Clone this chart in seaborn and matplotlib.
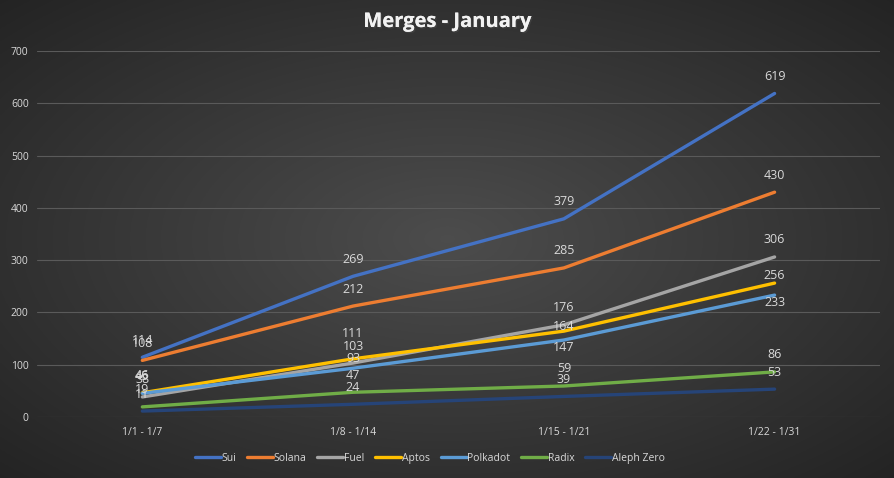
import numpy as np
import pandas as pd
import matplotlib
matplotlib.use("Agg")
import matplotlib.pyplot as plt
import matplotlib.patheffects as pe
import seaborn as sns

# dados
weeks = ["1/1 - 1/7", "1/8 - 1/14", "1/15 - 1/21", "1/22 - 1/31"]
sui = [114, 269, 379, 619]
solana = [108, 212, 285, 430]
fuel = [38, 103, 176, 306]
aptos = [46, 111, 164, 256]
polkadot = [45, 93, 147, 233]
radix = [19, 47, 59, 86]
aleph_zero = [11, 24, 39, 53]

series = {"Sui": sui, "Solana": solana, "Fuel": fuel, "Aptos": aptos,
          "Polkadot": polkadot, "Radix": radix, "Aleph Zero": aleph_zero}
cores = ["#4472C4", "#ED7D31", "#A5A5A5", "#FFC000", "#5B9BD5", "#70AD47", "#264478"]

# deslocamento dos rótulos (pixels acima do ponto), como no original
desloc = {"Aptos": [17, 25, 5, 8], "Polkadot": [17, 9.5, -7, -7]}

rows = []
for nome, vals in series.items():
    for i, v in enumerate(vals):
        rows.append({"pos": i, "serie": nome, "valor": v})
base = pd.DataFrame(rows)

sns.set_style("dark")
plt.rcParams['font.family'] = ['Open Sans', 'DejaVu Sans']
txt = "#d9d9d9"

fig = plt.figure(figsize=(8.95, 4.78), dpi=100)

# fundo com gradiente radial
bg = fig.add_axes([0, 0, 1, 1], zorder=0)
yy, xx = np.mgrid[-1:1:300j, -1:1:560j]
r = np.sqrt(xx**2 + yy**2) / np.sqrt(2)
g = 0.30 - 0.16 * r
bg.imshow(np.dstack([g, g, g]), aspect="auto", extent=[0, 1, 0, 1])
bg.axis("off")

ax = fig.add_axes([0.0413, 0.128, 0.9419, 0.765], zorder=1)
ax.patch.set_alpha(0)

sns.lineplot(data=base, x="pos", y="valor", hue="serie", palette=cores,
             linewidth=2.4, ax=ax, legend=True, solid_capstyle="round")

# rótulos de dados
for nome, vals in series.items():
    offs = desloc.get(nome, [17] * len(vals))
    for i, v in enumerate(vals):
        ax.annotate(str(v), (i, v), xytext=(0, offs[i] * 0.72), textcoords="offset points",
                    ha="center", va="center", color=txt, fontsize=9)

ax.set_xlim(-0.5, 3.5)
ax.set_ylim(0, 700)
ax.set_yticks(range(0, 701, 100))
ax.set_xticks(range(4))
ax.set_xticklabels(weeks)
ax.tick_params(colors=txt, labelsize=7.5, length=0, pad=6)
ax.tick_params(axis="x", pad=7)
ax.grid(axis="y", color="#5a5a5a", linewidth=0.8)
ax.grid(axis="x", visible=False)
for s in ax.spines.values():
    s.set_visible(False)
ax.set_xlabel("")
ax.set_ylabel("")

leg = ax.legend(loc="center", bbox_to_anchor=(0.466, -0.113), ncol=7,
                frameon=False, fontsize=7.5, handlelength=2.5, handletextpad=0.05,
                columnspacing=1.05)
for t in leg.get_texts():
    t.set_color(txt)

fig.text(0.5, 0.954, "Merges - January", ha="center", va="center",
         fontsize=14.5, fontweight="bold", color="#f2f2f2",
         path_effects=[pe.withSimplePatchShadow(offset=(1, -1), alpha=0.6), pe.Normal()])

fig.savefig("out.png", dpi=100)
